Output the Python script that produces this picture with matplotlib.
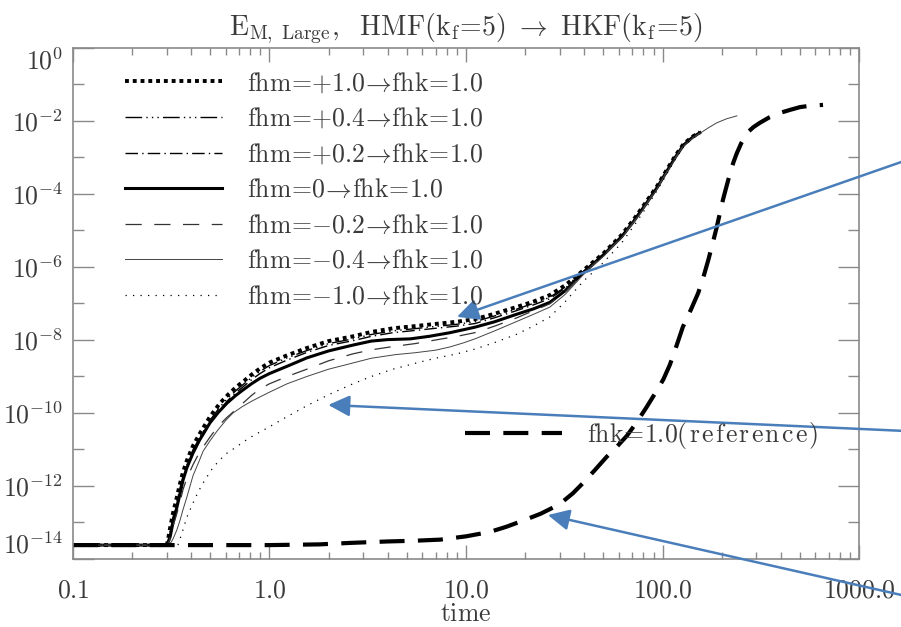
import numpy as np
import matplotlib
matplotlib.use("Agg")
import matplotlib.pyplot as plt
from matplotlib.ticker import FixedLocator, FixedFormatter, LogLocator, NullFormatter

plt.rcParams["mathtext.fontset"] = "cm"
plt.rcParams["font.family"] = ["DejaVu Serif"]

# ---------------------------------------------------------------------------
# Data (energies kept as log10 values)
# ---------------------------------------------------------------------------

# fhm=+1.0 (thick dotted)
t_p10 = [0.1, 0.30, 0.305, 0.312, 0.323, 0.338, 0.351, 0.363, 0.38, 0.408, 0.44, 0.498, 0.56,
         0.62, 0.684, 0.75, 0.824, 0.895, 1.0, 1.23, 1.55, 2.0, 2.66, 3.3, 4.25, 5.5, 7.0, 9.0,
         11.1, 14, 18, 22, 26.7, 32, 39.4, 50, 62, 72, 83, 94, 104, 116, 128, 142, 155]
lg_p10 = [-13.62, -13.62, -13.45, -13.15, -12.74, -12.3, -11.92, -11.62, -11.3, -10.9, -10.58, -10.1, -9.73,
          -9.48, -9.27, -9.1, -8.92, -8.78, -8.62, -8.42, -8.22, -8.03, -7.9, -7.78, -7.68, -7.62, -7.56, -7.5,
          -7.43, -7.28, -7.1, -6.95, -6.77, -6.5, -6.1, -5.63, -5.12, -4.67, -4.2, -3.78, -3.38, -2.96, -2.63, -2.43, -2.31]

# fhm=+0.4 (dash dot dot)
t_p04 = t_p10
lg_p04 = [-13.62, -13.62, -13.5, -13.25, -12.85, -12.42, -12.04, -11.74, -11.42, -11.01, -10.69, -10.2, -9.83,
          -9.57, -9.36, -9.18, -9.0, -8.86, -8.7, -8.49, -8.29, -8.1, -7.97, -7.85, -7.75, -7.69, -7.63, -7.57,
          -7.5, -7.34, -7.16, -7.0, -6.83, -6.55, -6.13, -5.65, -5.14, -4.69, -4.22, -3.8, -3.4, -2.98, -2.64, -2.44, -2.32]

# fhm=+0.2 (dash dot)
t_p02 = t_p10
lg_p02 = [-13.62, -13.62, -13.55, -13.32, -12.92, -12.5, -12.12, -11.82, -11.5, -11.08, -10.76, -10.27, -9.9,
          -9.63, -9.42, -9.24, -9.06, -8.92, -8.76, -8.55, -8.34, -8.15, -8.02, -7.9, -7.8, -7.74, -7.68, -7.62,
          -7.55, -7.39, -7.2, -7.04, -6.87, -6.58, -6.15, -5.66, -5.15, -4.7, -4.23, -3.81, -3.41, -2.99, -2.65, -2.45, -2.32]

# fhm=0 (thick solid)
t_z0 = [0.1, 0.30, 0.312, 0.323, 0.338, 0.351, 0.363, 0.38, 0.408, 0.44, 0.498, 0.55, 0.608, 0.67,
        0.733, 0.81, 0.895, 1.0, 1.23, 1.55, 2.0, 2.66, 3.3, 4.0, 5.2, 6.5, 8.3, 11.1, 14, 18, 22,
        26.7, 32, 39.4, 50, 62, 72, 83, 94, 104, 116, 128, 142, 155]
lg_z0 = [-13.62, -13.62, -13.4, -13.0, -12.58, -12.2, -11.84, -11.5, -11.1, -10.75, -10.27, -9.98, -9.73, -9.53,
         -9.37, -9.2, -9.05, -8.92, -8.72, -8.49, -8.3, -8.14, -8.03, -7.99, -7.97, -7.9, -7.8, -7.65, -7.5, -7.3, -7.15,
         -6.97, -6.65, -6.16, -5.67, -5.17, -4.72, -4.25, -3.82, -3.42, -3.0, -2.66, -2.45, -2.32]

# fhm=-0.2 (dashed)
t_m02 = [0.1, 0.30, 0.31, 0.323, 0.338, 0.351, 0.363, 0.38, 0.408, 0.44, 0.498, 0.55, 0.608, 0.67,
         0.733, 0.81, 0.895, 1.0, 1.23, 1.55, 2.0, 2.66, 3.3, 4.25, 5.5, 7.0, 9.0, 11.1, 14, 18, 22,
         26.7, 32, 39.4, 50, 62, 72, 83, 94, 104, 116, 128, 142, 155]
lg_m02 = [-13.62, -13.62, -13.5, -13.1, -12.75, -12.42, -12.1, -11.78, -11.42, -11.08, -10.66, -10.35, -10.12, -9.92,
          -9.73, -9.52, -9.34, -9.2, -9.0, -8.8, -8.57, -8.38, -8.27, -8.18, -8.1, -8.0, -7.9, -7.8, -7.62, -7.4, -7.2,
          -7.01, -6.68, -6.18, -5.68, -5.18, -4.73, -4.26, -3.83, -3.43, -3.01, -2.67, -2.46, -2.33]

# fhm=-0.4 (thin solid)
t_m04 = [0.1, 0.30, 0.315, 0.323, 0.338, 0.351, 0.363, 0.38, 0.408, 0.44, 0.459, 0.5, 0.54, 0.6,
         0.652, 0.73, 0.81, 0.895, 1.0, 1.23, 1.55, 2.0, 2.66, 3.3, 4.4, 5.5, 7.0, 8.3, 9.7, 11.1,
         14, 18, 22, 26.7, 32, 39.4, 50, 62, 72, 83, 94, 104, 116, 128, 142, 155, 172, 189, 212, 239]
lg_m04 = [-13.62, -13.62, -13.55, -13.45, -13.2, -12.93, -12.65, -12.3, -11.72, -11.3, -11.05, -10.75, -10.5, -10.2,
          -10.0, -9.82, -9.68, -9.56, -9.43, -9.2, -9.0, -8.8, -8.63, -8.5, -8.4, -8.35, -8.28, -8.19, -8.08, -7.97,
          -7.75, -7.5, -7.3, -7.1, -6.75, -6.22, -5.71, -5.2, -4.75, -4.28, -3.85, -3.45, -3.03, -2.68, -2.47, -2.34,
          -2.18, -2.05, -1.94, -1.86]

# fhm=-1.0 (thin dotted)
t_m10 = [0.1, 0.342, 0.352, 0.363, 0.38, 0.408, 0.433, 0.459, 0.49, 0.515, 0.56, 0.608, 0.67, 0.733,
         0.81, 0.895, 1.0, 1.1, 1.23, 1.55, 2.0, 2.66, 3.3, 4.25, 5.5, 7.0, 9.0, 11.1, 14, 18, 22,
         26.7, 32, 39.4, 50, 62, 72, 83, 94, 104, 116, 128, 142, 155]
lg_m10 = [-13.62, -13.62, -13.42, -13.2, -12.85, -12.47, -12.17, -11.92, -11.68, -11.5, -11.28, -11.1, -10.95, -10.8,
          -10.65, -10.52, -10.38, -10.25, -10.1, -9.8, -9.5, -9.2, -9.0, -8.8, -8.64, -8.5, -8.38, -8.25, -8.07, -7.85,
          -7.62, -7.37, -6.95, -6.4, -5.88, -5.34, -4.85, -4.36, -3.9, -3.5, -3.06, -2.7, -2.48, -2.35]

# fhk=1.0 reference run (thick long dashes)
t_ref = [0.1, 0.5, 1.0, 1.8, 2.57, 4.0, 5.5, 7.4, 10, 13.2, 16, 19.5, 24, 28, 31.2, 35, 39.4, 45,
         52, 58, 66, 74, 83, 92, 101, 109, 118, 127, 140, 152, 162, 171, 180, 189, 196, 203, 212,
         221, 230, 239, 252, 269, 290, 313, 350, 396, 450, 501, 570, 656]
lg_ref = [-13.62, -13.62, -13.62, -13.6, -13.56, -13.52, -13.5, -13.47, -13.38, -13.26, -13.12, -12.95, -12.76,
          -12.58, -12.42, -12.2, -11.92, -11.58, -11.2, -10.95, -10.62, -10.25, -9.84, -9.45, -9.08, -8.68, -8.15,
          -7.64, -7.15, -6.71, -6.25, -5.81, -5.35, -4.9, -4.52, -4.16, -3.78, -3.42, -3.12, -2.88, -2.6, -2.33,
          -2.17, -2.05, -1.9, -1.78, -1.69, -1.62, -1.58, -1.56]

labels = [
    r"$\mathrm{fhm}\!=\!{+}1.0\!\rightarrow\!\mathrm{fhk}\!=\!1.0$",
    r"$\mathrm{fhm}\!=\!{+}0.4\!\rightarrow\!\mathrm{fhk}\!=\!1.0$",
    r"$\mathrm{fhm}\!=\!{+}0.2\!\rightarrow\!\mathrm{fhk}\!=\!1.0$",
    r"$\mathrm{fhm}\!=\!0\!\rightarrow\!\mathrm{fhk}\!=\!1.0$",
    r"$\mathrm{fhm}\!=\!{-}0.2\!\rightarrow\!\mathrm{fhk}\!=\!1.0$",
    r"$\mathrm{fhm}\!=\!{-}0.4\!\rightarrow\!\mathrm{fhk}\!=\!1.0$",
    r"$\mathrm{fhm}\!=\!{-}1.0\!\rightarrow\!\mathrm{fhk}\!=\!1.0$",
]
ref_word = r"\hspace{0.1}".join("(reference)")
ref_label = r"$\mathrm{fhk}\!=\!1.0\mathrm{" + ref_word + "}$"
title = (r"$\mathrm{E_{M,\ Large}},\ \ \mathrm{HMF}(\mathrm{k_f}\!=\!5)\ \rightarrow\ "
         r"\mathrm{HKF}(\mathrm{k_f}\!=\!5)$")

xticks = [0.1, 1.0, 10.0, 100.0, 1000.0]
xtick_labels = ["0.1", "1.0", "10.0", "100.0", "1000.0"]
ymajor_exp = [-14, -12, -10, -8, -6, -4, -2, 0]
yminor_exp = [-13, -11, -9, -7, -5, -3, -1]

# ---------------------------------------------------------------------------
# Plot
# ---------------------------------------------------------------------------

TXT = "#3a3a3a"
AX = "#8a8a8a"
FS = 18.5

fig = plt.figure(figsize=(9.01, 6.27), dpi=100)
ax = fig.add_axes([0.081, 0.1085, 0.8724, 0.815])

styles = [
    dict(color="black", lw=2.8, ls=(0, (1, 1))),
    dict(color="black", lw=1.0, ls=(0, (12, 3, 1, 3, 1, 3, 1, 3))),
    dict(color="black", lw=1.0, ls=(0, (9, 3, 1, 3))),
    dict(color="black", lw=2.2, ls="-"),
    dict(color="#333333", lw=0.9, ls=(0, (13, 10))),
    dict(color="#444444", lw=0.7, ls="-"),
    dict(color="black", lw=0.9, ls=(0, (1, 5))),
]
series = [(t_p10, lg_p10), (t_p04, lg_p04), (t_p02, lg_p02), (t_z0, lg_z0),
          (t_m02, lg_m02), (t_m04, lg_m04), (t_m10, lg_m10)]

handles = []
for (t, lg), st, lab in zip(series, styles, labels):
    h, = ax.plot(t, 10.0 ** np.array(lg), label=lab, dash_capstyle="butt", **st)
    handles.append(h)

href, = ax.plot(t_ref, 10.0 ** np.array(lg_ref), color="black", lw=3.0,
                ls=(0, (6, 3.2)), dash_capstyle="butt", label=ref_label)

ax.set_xscale("log")
ax.set_yscale("log")
ax.set_xlim(0.1, 1000)
ax.set_ylim(1e-14, 1)

ax.xaxis.set_major_locator(FixedLocator(xticks))
ax.xaxis.set_major_formatter(FixedFormatter([f"$\\mathrm{{{s}}}$" for s in xtick_labels]))
ax.xaxis.set_minor_locator(LogLocator(base=10, subs=np.arange(2, 10)))
ax.xaxis.set_minor_formatter(NullFormatter())

ax.yaxis.set_major_locator(FixedLocator([10.0 ** e for e in ymajor_exp]))
ax.yaxis.set_major_formatter(FixedFormatter([f"$10^{{{e}}}$" for e in ymajor_exp]))
ax.yaxis.set_minor_locator(FixedLocator([10.0 ** e for e in yminor_exp]))
ax.yaxis.set_minor_formatter(NullFormatter())

ax.tick_params(axis="both", which="both", direction="in", colors=AX,
               labelcolor=TXT, labelsize=FS, width=1.0)
ax.tick_params(axis="x", which="both", top=True, pad=13)
ax.tick_params(axis="x", which="major", length=10)
ax.tick_params(axis="x", which="minor", length=5)
ax.tick_params(axis="y", which="both", right=True, pad=7)
ax.tick_params(axis="y", which="major", length=15)
ax.tick_params(axis="y", which="minor", length=8)
for sp in ax.spines.values():
    sp.set_color(AX)
    sp.set_linewidth(1.2)

# keep the end labels inside the axis span, like the original
yt = ax.yaxis.get_major_ticks()
yt[0].label1.set_verticalalignment("bottom")
yt[-1].label1.set_verticalalignment("top")

ax.set_xlabel(r"$\mathrm{time}$", fontsize=FS, color=TXT, labelpad=-1)
ax.set_title(title, fontsize=20, color=TXT, pad=9)

leg_kw = dict(frameon=False, fontsize=FS, handlelength=3.77, handletextpad=0.97,
              labelcolor=TXT, borderaxespad=0, borderpad=0)
leg1 = ax.legend(handles=handles, loc="upper left", bbox_to_anchor=(0.0662, 0.956),
                 labelspacing=0.41, **leg_kw)
ax.add_artist(leg1)
ax.legend(handles=[href], loc="center left", bbox_to_anchor=(0.4987, 0.2407), **leg_kw)

# blue annotation arrows, running off the right edge of the figure
BLUE = "#4a7ebb"
arrows = [((9.0, 4.3e-8), (950, 627 - 145)),
          ((1.99, 1.66e-10), (950, 627 - 433)),
          ((26.1, 1.6e-13), (950, 627 - 606))]
for tip, tail in arrows:
    ax.annotate("", xy=tip, xycoords="data", xytext=tail, textcoords="figure pixels",
                annotation_clip=False,
                arrowprops=dict(arrowstyle="-|>,head_length=0.65,head_width=0.32",
                                color=BLUE, lw=1.8, mutation_scale=20, shrinkA=0, shrinkB=0))

fig.savefig("out.png", dpi=100)
